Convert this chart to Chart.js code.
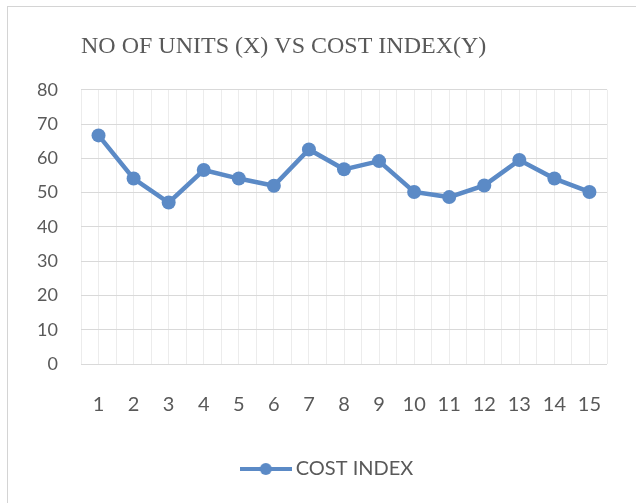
<!DOCTYPE html>
<html>
<head>
<meta charset="utf-8">
<script src="https://cdn.jsdelivr.net/npm/chart.js@4"></script>
<style>
  html, body { margin: 0; padding: 0; background: #fff; }
  #wrap { position: relative; width: 636px; height: 503px; overflow: hidden; }
  #frame { position: absolute; left: 7px; top: 6px; width: 700px; height: 600px; border: 1px solid #d4d4d4; }
  #c { position: absolute; left: 0; top: 0; }
</style>
</head>
<body>
<div id="wrap">
  <div id="frame"></div>
  <canvas id="c" width="636" height="503"></canvas>
</div>
<script>
// ---- dades del gràfic ----
const unitats = [1, 2, 3, 4, 5, 6, 7, 8, 9, 10, 11, 12, 13, 14, 15];
const costIndex = [66.7, 54.1, 47.1, 56.6, 54.1, 52.0, 62.6, 56.8, 59.2, 50.2, 48.7, 52.1, 59.5, 54.1, 50.2];
const titol = 'NO OF UNITS (X) VS COST INDEX(Y)';
const nomSerie = 'COST INDEX';

const BLAU = '#5B8AC6';
const GRIS_TEXT = '#595959';
const SERIF = "'Liberation Serif', 'Times New Roman', serif";
const SANS = "Lato, 'Open Sans', sans-serif";

// icona de la llegenda: línia amb cercle al mig
function iconaLlegenda() {
  const cv = document.createElement('canvas');
  cv.width = 52; cv.height = 14;
  const ctx = cv.getContext('2d');
  ctx.strokeStyle = BLAU;
  ctx.lineWidth = 4;
  ctx.beginPath(); ctx.moveTo(0, 7); ctx.lineTo(52, 7); ctx.stroke();
  ctx.fillStyle = BLAU;
  ctx.beginPath(); ctx.arc(26, 7, 6, 0, Math.PI * 2); ctx.fill();
  return cv;
}

// la llegenda d'Excel queda una mica més a la dreta
const desplacaLlegenda = {
  id: 'desplacaLlegenda',
  afterLayout(chart) {
    const lg = chart.legend;
    if (lg) { lg.left += 17; lg.right += 17; }
  }
};

new Chart(document.getElementById('c'), {
  type: 'line',
  data: {
    datasets: [{
      label: nomSerie,
      data: unitats.map((u, i) => ({ x: u, y: costIndex[i] })),
      borderColor: BLAU,
      backgroundColor: BLAU,
      borderWidth: 4.5,
      pointRadius: 7,
      pointBorderWidth: 0,
      pointBackgroundColor: BLAU,
      tension: 0
    }]
  },
  options: {
    responsive: false,
    animation: false,
    layout: { padding: { left: 10, right: 21, top: 22, bottom: 14 } },
    plugins: {
      title: {
        display: true,
        text: titol,
        align: 'start',
        fullSize: false,
        color: GRIS_TEXT,
        font: { family: SERIF, size: 24, weight: 'normal' },
        padding: { top: 10, bottom: 29 }
      },
      legend: {
        position: 'bottom',
        labels: {
          usePointStyle: true,
          pointStyle: iconaLlegenda(),
          pointStyleWidth: 40,
          color: GRIS_TEXT,
          font: { family: SANS, size: 20 },
          padding: 10
        }
      },
      tooltip: { enabled: false }
    },
    scales: {
      x: {
        type: 'linear',
        min: 0.5,
        max: 15.5,
        border: { display: false },
        grid: { color: '#ececec', lineWidth: 1, drawTicks: false },
        ticks: {
          stepSize: 0.5,
          autoSkip: false,
          maxRotation: 0,
          padding: 29,
          color: GRIS_TEXT,
          font: { family: SANS, size: 20 },
          callback: v => Number.isInteger(v) ? String(v) : ''
        },
        afterFit: axis => { axis.height = 85; }
      },
      y: {
        min: 0,
        max: 80,
        border: { display: false },
        grid: { color: '#d9d9d9', lineWidth: 1, drawTicks: false },
        ticks: {
          stepSize: 10,
          padding: 23,
          color: GRIS_TEXT,
          font: { family: SANS, size: 18 }
        },
        afterFit: axis => { axis.width = 71; }
      }
    }
  },
  plugins: [desplacaLlegenda]
});
</script>
</body>
</html>
